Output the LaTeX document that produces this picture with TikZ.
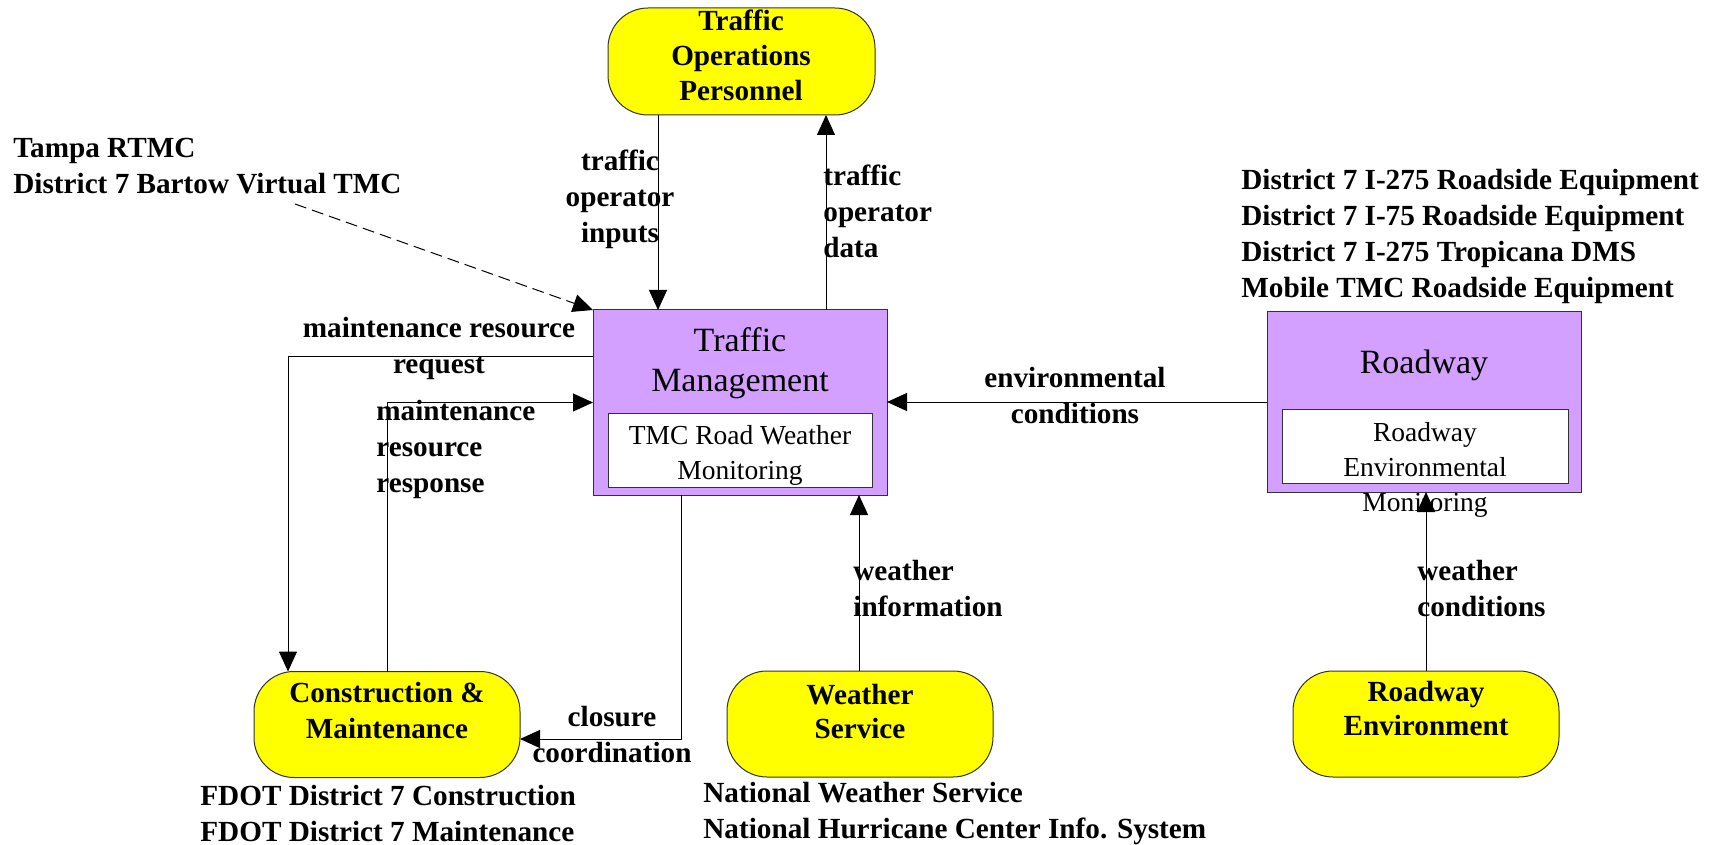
\documentclass[tikz,border=0pt]{standalone}
\usepackage{fontspec}
\setmainfont{Liberation Serif}
\usetikzlibrary{arrows.meta,calc}
\definecolor{ylw}{RGB}{255,255,0}
\definecolor{prp}{RGB}{212,160,255}
\tikzset{
  lbl/.style={font=\fontsize{14.6}{18}\selectfont\bfseries, inner sep=0pt},
  ybox/.style={draw=black!80, line width=0.5pt, fill=ylw, rounded corners=20pt, inner sep=0pt, outer sep=0pt, minimum width=133pt, minimum height=53pt},
  ytext/.style={font=\fontsize{14.6}{17.5}\selectfont\bfseries, align=center, inner sep=0pt},
  pbox/.style={draw=black!80, line width=0.5pt, fill=prp, inner sep=0pt, outer sep=0pt},
  wbox/.style={draw=black!80, line width=0.5pt, fill=white, inner sep=0pt, outer sep=0pt},
  ttl/.style={font=\fontsize{17}{20}\selectfont, align=center, inner sep=0pt},
  inn/.style={font=\fontsize{13.75}{17.5}\selectfont, align=center, inner sep=0pt},
  arr/.style={line width=0.5pt, -{Triangle[length=10pt,width=9pt]}},
}
\begin{document}
\begin{tikzpicture}[x=0.5pt,y=-0.5pt]
\useasboundingbox (0,0) rectangle (1714,845);
% boxes
\node[ybox, minimum width=133.5pt, minimum height=53.5pt] (top) at (741.5,61.5) {};
\node[ytext] (toptxt) at (741,55) {Traffic\\Operations\\Personnel};
\node[pbox, minimum width=147pt, minimum height=92.5pt] (tm) at (740,402.5) {};
\node[ttl] (tmttl) at (740,363) {Traffic\\Management};
\node[wbox, minimum width=132pt, minimum height=37pt] (tmin) at (740,450) {};
\node[inn] (tmintxt) at (740,455) {TMC Road Weather\\Monitoring};
\node[pbox, minimum width=157pt, minimum height=90pt] (rw) at (1424,402) {};
\node[ttl] (rwttl) at (1424,365) {Roadway};
\node[wbox, minimum width=143pt, minimum height=37pt] (rwin) at (1425,446) {};
\node[inn] (rwintxt) at (1425,470) {Roadway\\Environmental\\Monitoring};
\node[ybox] (cm) at (387,724.5) {};
\node[ytext, font=\fontsize{14.6}{18}\selectfont\bfseries] (cmtxt) at (387,711) {Construction \&\\Maintenance};
\node[ybox] (ws) at (860,724) {};
\node[ytext, font=\fontsize{14.6}{17}\selectfont\bfseries] (wstxt) at (860,712) {Weather\\Service};
\node[ybox] (re) at (1426,724) {};
\node[ytext, font=\fontsize{14.6}{17}\selectfont\bfseries] (retxt) at (1426,709) {Roadway\\Environment};
% helper coordinates
\coordinate (x658) at (658,0);
\coordinate (x826) at (826,0);
\coordinate (x288) at (288,0);
\coordinate (x387) at (387,0);
\coordinate (x859) at (859,0);
\coordinate (x681) at (681,0);
\coordinate (y357) at (0,357);
\coordinate (y739) at (0,739);
\coordinate (ds) at (295,204);
% connectors
\draw[arr] (top.south -| x658) -- (tm.north -| x658);
\draw[arr] (tm.north -| x826) -- (top.south -| x826);
\draw[arr, dash pattern=on 6pt off 3pt] (ds) -- (tm.north west);
\draw[arr] (tm.west |- y357) -| (cm.north -| x288);
\draw[arr] (cm.north -| x387) |- (tm.west);
\draw[arr] (rw.west) -- (rw.west -| tm.east);
\draw[arr] (ws.north -| x859) -- (tm.south -| x859);
\draw[arr] (re.north) -- (rw.south -| re.north);
\draw[arr] (tm.south -| x681) |- (cm.east |- y739);
% labels
\node[lbl, anchor=west, align=left] (tampa) at (13,166) {Tampa RTMC\\District 7 Bartow Virtual TMC};
\node[lbl, align=center] (toi) at (620,199) {traffic\\operator\\inputs};
\node[lbl, anchor=west, align=left] (tod) at (823,211) {traffic\\operator\\data};
\node[lbl, align=center] (mrreq) at (439,348) {maintenance resource\\request};
\node[lbl, anchor=west, align=left] (mrresp) at (376,449) {maintenance\\resource\\response};
\node[lbl, align=center] (env) at (1075,396) {environmental\\conditions};
\node[lbl, anchor=west, align=left] (d7) at (1241,236) {District 7 I-275 Roadside Equipment\\District 7 I-75 Roadside Equipment\\District 7 I-275 Tropicana DMS\\Mobile TMC Roadside Equipment};
\node[lbl, anchor=west, align=left] (wi) at (853,589) {weather\\information};
\node[lbl, anchor=west, align=left] (wc) at (1417,589) {weather\\conditions};
\node[lbl, align=center] (clo) at (612,735) {closure\\coordination};
\node[lbl, anchor=west, align=left] (fdot) at (200,814) {FDOT District 7 Construction\\FDOT District 7 Maintenance};
\node[lbl, anchor=west, align=left] (nws) at (703,814) {National Weather Service\\National Hurricane Center Info. System};
\end{tikzpicture}
\end{document}
